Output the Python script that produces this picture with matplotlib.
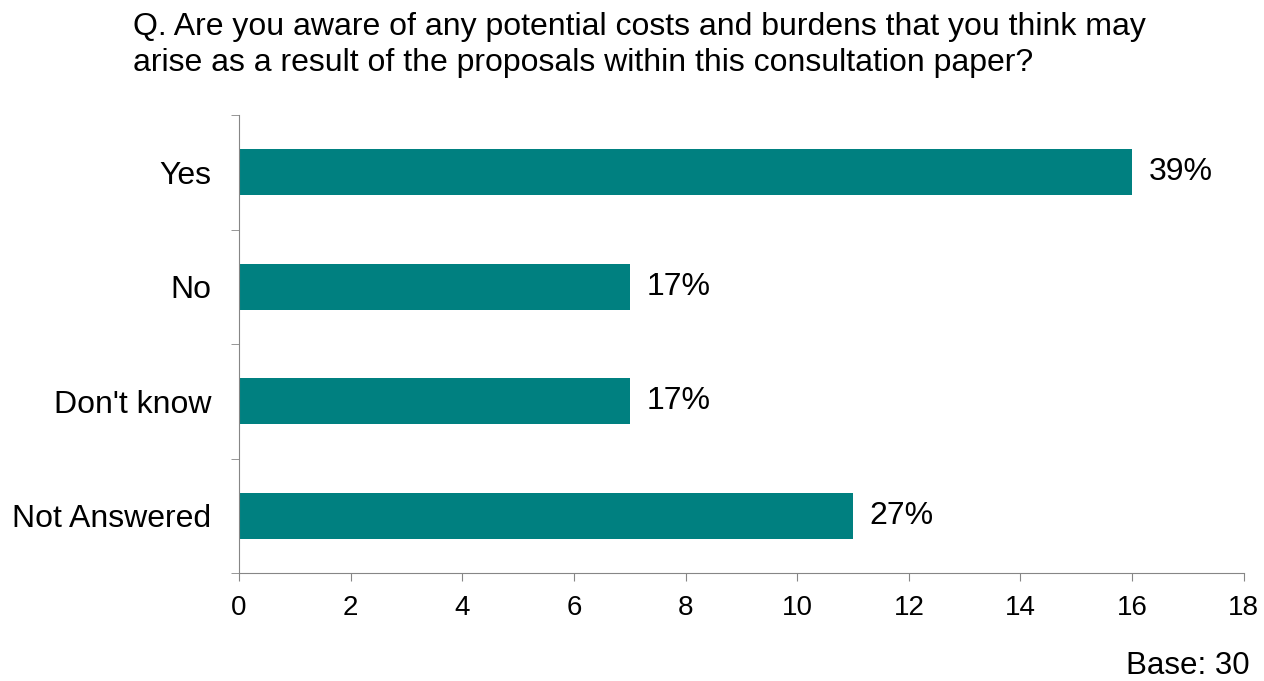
import matplotlib.pyplot as plt

plt.rcParams['font.family'] = ['Liberation Sans', 'DejaVu Sans']

categories = ["Yes", "No", "Don't know", "Not Answered"]
counts = [16, 7, 7, 11]
pct_labels = ["39%", "17%", "17%", "27%"]

fig = plt.figure(figsize=(12.64, 6.81), dpi=100)
ax = fig.add_axes([0.189, 0.1586, 0.795, 0.6725])

pos = list(range(len(categories)))
ax.barh(pos, counts, height=0.4, color="#008080")
for p, c, lab in zip(pos, counts, pct_labels):
    ax.text(c + 0.3, p, lab, va="center", ha="left", fontsize=23)

ax.set_ylim(len(categories) - 0.5, -0.5)
ax.set_xlim(0, 18)
ax.set_xticks(range(0, 19, 2))
ax.set_yticks(pos)
ax.set_yticklabels(categories)
# tick marks sit between categories, labels stay centred on bars
ax.set_yticks([i - 0.5 for i in range(len(categories) + 1)], minor=True)
ax.tick_params(axis="y", which="major", length=0, pad=20, labelsize=23)
ax.tick_params(axis="y", which="minor", length=6, color="#868686")
ax.tick_params(axis="x", length=6, color="#868686", labelsize=20, pad=10)

for side in ["top", "right"]:
    ax.spines[side].set_visible(False)
for side in ["left", "bottom"]:
    ax.spines[side].set_color("#868686")

fig.text(133 / 1264, 1 - 12 / 681,
         "Q. Are you aware of any potential costs and burdens that you think may\n"
         "arise as a result of the proposals within this consultation paper?",
         ha="left", va="top", fontsize=23, linespacing=1.25)
fig.text(1250 / 1264, 1 - 666 / 681, "Base: 30", ha="right", va="center", fontsize=22.5)

fig.savefig("out.png", dpi=100)
